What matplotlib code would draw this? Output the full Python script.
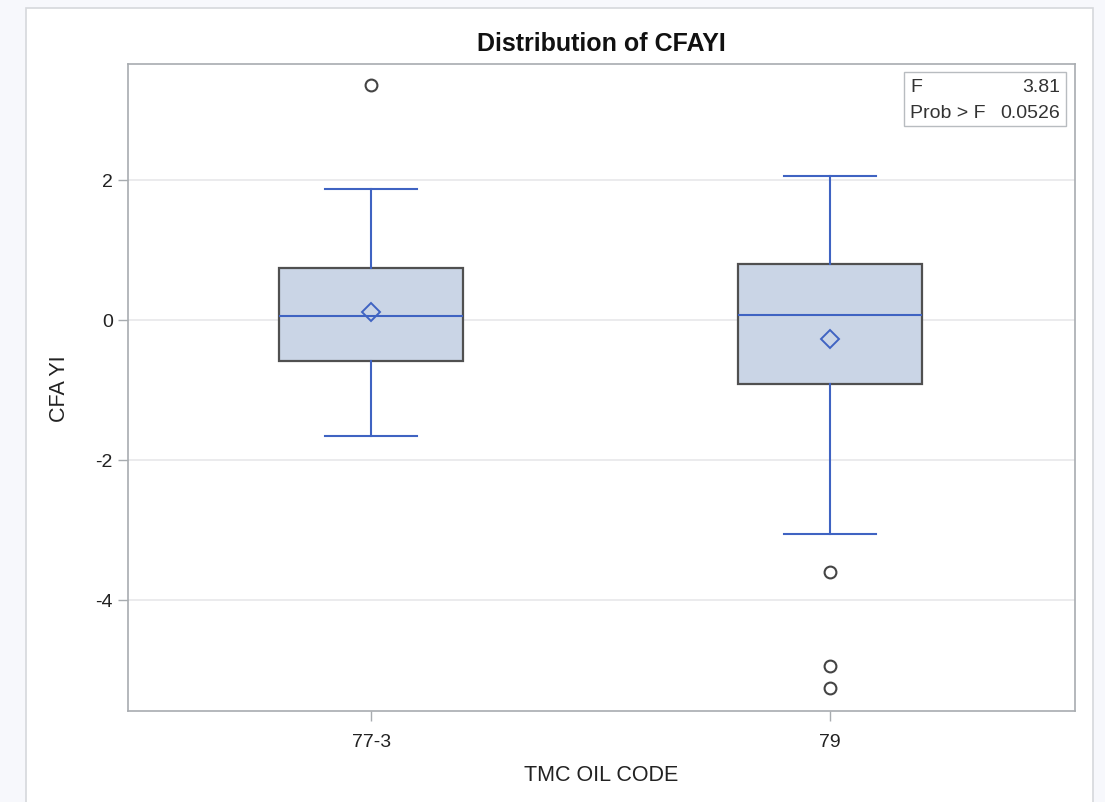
import numpy as np
import matplotlib.pyplot as plt
from matplotlib.patches import Rectangle

plt.rcParams['font.family'] = ['Liberation Sans', 'DejaVu Sans']

# Data
groups = ['77-3', '79']
q1 = [-0.59, -0.92]
median = [0.05, 0.07]
q3 = [0.74, 0.80]
mean = [0.11, -0.27]
whis_lo = [-1.66, -3.06]
whis_hi = [1.87, 2.06]
outliers = [[3.36], [-3.60, -4.95, -5.26]]
f_value = '3.81'
prob_f = '0.0526'

blue = '#3f63c2'
fill = '#cad5e6'


def build_stats():
    stats = []
    for i in range(len(groups)):
        stats.append(dict(med=median[i], q1=q1[i], q3=q3[i],
                          whislo=whis_lo[i], whishi=whis_hi[i],
                          mean=mean[i], fliers=np.array(outliers[i]),
                          label=groups[i]))
    return stats


fig = plt.figure(figsize=(11.05, 8.03), dpi=100, facecolor='#f7f8fc')
# outer white panel
fig.patches.append(Rectangle((26 / 1105, -0.05), (1093 - 26) / 1105, 1.05 - 9 / 803,
                             transform=fig.transFigure, facecolor='white',
                             edgecolor='#d6d8dc', lw=1.2, zorder=-5))

ax = fig.add_axes([128 / 1105, 1 - 712 / 803, (1075 - 128) / 1105, (712 - 65) / 803])
ax.bxp(build_stats(), positions=[0, 1], widths=0.4, capwidths=0.2,
       showmeans=True, patch_artist=True,
       boxprops=dict(facecolor=fill, edgecolor='#505050', lw=1.6),
       whiskerprops=dict(color=blue, lw=1.5),
       capprops=dict(color=blue, lw=1.5),
       medianprops=dict(color=blue, lw=1.5),
       meanprops=dict(marker='D', markerfacecolor='none', markeredgecolor=blue,
                      markersize=9, markeredgewidth=1.4),
       flierprops=dict(marker='o', markerfacecolor='none', markeredgecolor='#444444',
                       markersize=8.5, markeredgewidth=1.5))

ax.set_xlim(-0.53, 1.534)
ax.set_ylim(-5.586, 3.657)
ax.set_yticks([2, 0, -2, -4])
ax.set_yticklabels(['2', '0', '-2', '-4'])
ax.yaxis.grid(True, color='#e8e8ea', lw=1.2)
ax.set_axisbelow(True)
for s in ax.spines.values():
    s.set_color('#a8acb0')
    s.set_linewidth(1.2)
ax.tick_params(axis='both', colors='#a8acb0', length=7, width=1, labelsize=14,
               labelcolor='#222222', pad=4)
ax.tick_params(axis='x', pad=9)

ax.set_title('Distribution of CFAYI', fontsize=18, fontweight='bold', pad=10, color='#111111')
ax.set_xlabel('TMC OIL CODE', fontsize=15.5, labelpad=10, color='#222222')
ax.set_ylabel('CFA YI', fontsize=15.5, labelpad=18, color='#222222')

# statistics inset
ax.add_patch(Rectangle((904 / 1105, 1 - 127 / 803), (1066 - 904) / 1105, 54 / 803,
                       transform=fig.transFigure, facecolor='white',
                       edgecolor='#b8bcc0', lw=1, zorder=5))
fig.text(910 / 1105, 1 - 88 / 803, 'F', fontsize=14, va='center', color='#333333', zorder=6)
fig.text(1060 / 1105, 1 - 88 / 803, f_value, fontsize=14, va='center', ha='right', color='#333333', zorder=6)
fig.text(910 / 1105, 1 - 114 / 803, 'Prob > F', fontsize=14, va='center', color='#333333', zorder=6)
fig.text(1060 / 1105, 1 - 114 / 803, prob_f, fontsize=14, va='center', ha='right', color='#333333', zorder=6)

fig.savefig('out.png', dpi=100, facecolor=fig.get_facecolor())
